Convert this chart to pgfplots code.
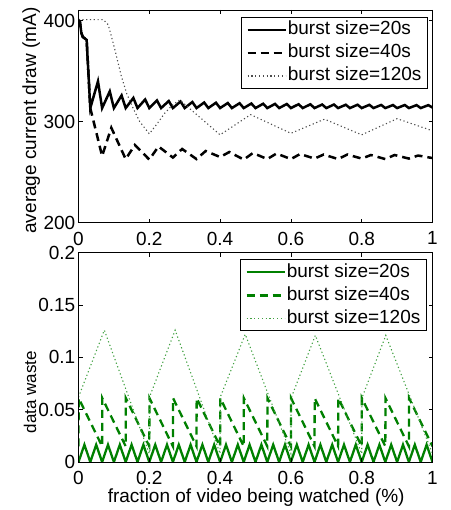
\documentclass[border=0pt]{standalone}
\usepackage{fontspec}
\setmainfont{Liberation Sans}
\usepackage{pgfplots}
\pgfplotsset{compat=1.18}
\definecolor{mgreen}{RGB}{0,128,0}
\newcommand{\ff}{\fontsize{19}{22}\selectfont}
\begin{document}
\ff
\begin{tikzpicture}
\path[use as bounding box] (0pt,0pt) rectangle (450pt,-510pt);
\pgfplotsset{
  every axis/.append style={
    scale only axis, width=354pt,
    xmin=0, xmax=1,
    xtick={0,0.2,0.4,0.6,0.8,1},
    xticklabels={0,0.2,0.4,0.6,0.8,1},
    tick align=inside,
    major tick length=4pt,
    axis on top,
    axis line style={line width=0.9pt},
    every tick/.style={black, line width=0.8pt},
    tick label style={font=\ff, inner sep=0pt},
    xticklabel shift=9pt,
    yticklabel shift=3pt,
    label style={font=\ff},
    legend cell align=left,
    legend style={font=\ff, draw=black, line width=0.9pt, inner xsep=5pt, inner ysep=3pt, row sep=4pt,
       nodes={inner sep=1pt, text height=13.5pt, text depth=3.5pt}},
    legend image code/.code={\draw[#1] (0pt,0pt) -- (38pt,0pt);},
  },
}
% ---------------- top axis ----------------
\begin{axis}[
  at={(78.5pt,-222.7pt)}, anchor=south west,
  height=212.7pt,
  ymin=200, ymax=410.6,
  ytick={200,300,400}, yticklabels={200,300,400},
  ylabel={average current draw (mA)},
  every axis y label/.style={at={(axis description cs:-0.12,0.48)}, rotate=90, anchor=base},
  legend style={at={(axis description cs:0.987,0.967)}, anchor=north east},
]
\addplot[black, line width=2.5pt] coordinates {
(0,401)(0.004,399)(0.008,388)(0.012,384)(0.023,381)(0.0333,313.5)
(0.055,340)(0.0667,313.5)(0.0883,330)(0.1,313.5)(0.1217,326)(0.1333,313.5)(0.155,323.5)(0.1667,313.5)(0.1883,322)(0.2,313.5)(0.2217,321)(0.2333,313.5)(0.255,320.5)(0.2667,313.5)(0.2883,320)(0.3,313.5)(0.3217,319.5)(0.3333,313.5)(0.355,319)(0.3667,313.5)(0.3883,318.8)(0.4,313.5)(0.4217,318.5)(0.4333,313.5)(0.455,318.3)(0.4667,313.5)(0.4883,318)(0.5,313.5)(0.5217,317.8)(0.5333,313.5)(0.555,317.6)(0.5667,313.5)(0.5883,317.5)(0.6,313.5)(0.6217,317.3)(0.6333,313.5)(0.655,317.2)(0.6667,313.5)(0.6883,317)(0.7,313.5)(0.7217,317)(0.7333,313.5)(0.755,316.8)(0.7667,313.5)(0.7883,316.8)(0.8,313.5)(0.8217,316.7)(0.8333,313.5)(0.855,316.6)(0.8667,313.5)(0.8883,316.5)(0.9,313.5)(0.9217,316.5)(0.9333,313.5)(0.955,316.4)(0.9667,313.5)(0.9883,316.4)(1,314)
};
\addlegendentry{burst size=20s}
\addplot[black, line width=2.5pt, dash pattern=on 8pt off 5pt] coordinates {
(0,401)(0.004,399)(0.008,388)(0.012,384)(0.023,381)(0.0333,313.5)(0.0667,266)(0.0927,294)(0.1333,263)(0.1593,277)(0.2,262.5)(0.226,275.5)(0.2667,264.5)(0.2927,273)(0.3333,263)(0.3593,271)(0.4,265)(0.426,270)(0.4667,262.5)(0.4927,269)(0.5333,263)(0.5593,268.5)(0.6,263)(0.626,268)(0.6667,263.5)(0.6927,267.5)(0.7333,263)(0.7593,267.5)(0.8,263.5)(0.826,267)(0.8667,263)(0.8927,267)(0.9333,263.5)(0.9593,266.5)(1,264)
};
\addlegendentry{burst size=40s}
\addplot[black!70, line width=1.1pt, dash pattern=on 1.2pt off 2.6pt] coordinates {
(0,401)(0.07,401)(0.084,396)(0.093,384.5)(0.103,371)(0.112,358)(0.121,345)(0.136,328)(0.154,313.6)(0.173,300)(0.2,288)(0.22,297)(0.244,308.6)(0.267,317)(0.286,321.5)(0.4,287)(0.486,307)(0.6,288.5)(0.695,302.5)(0.8,287)(0.9,303)(1,291)
};
\addlegendentry{burst size=120s}
\end{axis}
% ---------------- bottom axis ----------------
\begin{axis}[
  at={(78.5pt,-462pt)}, anchor=south west,
  height=209.3pt,
  ymin=0, ymax=0.2,
  ytick={0,0.05,0.1,0.15,0.2}, yticklabels={0,0.05,0.1,0.15,0.2},
  ylabel={data waste},
  every axis y label/.style={at={(axis description cs:-0.12,0.334)}, rotate=90, anchor=base, font=\fontsize{17}{20}\selectfont},
  xlabel={fraction of video being watched (\%)},
  every axis x label/.style={at={(axis description cs:0.502,-0.1247)}, anchor=north, inner sep=0pt},
  legend style={at={(axis description cs:0.984,0.968)}, anchor=north east},
]
\addplot[mgreen, line width=2.3pt] coordinates {
(0,0)(0.0167,0.0165)(0.0333,0)(0.05,0.0165)(0.0667,0)(0.0833,0.0165)(0.1,0)(0.1167,0.0165)(0.1333,0)(0.15,0.0165)(0.1667,0)(0.1833,0.0165)(0.2,0)(0.2167,0.0165)(0.2333,0)(0.25,0.0165)(0.2667,0)(0.2833,0.0165)(0.3,0)(0.3167,0.0165)(0.3333,0)(0.35,0.0165)(0.3667,0)(0.3833,0.0165)(0.4,0)(0.4167,0.0165)(0.4333,0)(0.45,0.0165)(0.4667,0)(0.4833,0.0165)(0.5,0)(0.5167,0.0165)(0.5333,0)(0.55,0.0165)(0.5667,0)(0.5833,0.0165)(0.6,0)(0.6167,0.0165)(0.6333,0)(0.65,0.0165)(0.6667,0)(0.6833,0.0165)(0.7,0)(0.7167,0.0165)(0.7333,0)(0.75,0.0165)(0.7667,0)(0.7833,0.0165)(0.8,0)(0.8167,0.0165)(0.8333,0)(0.85,0.0165)(0.8667,0)(0.8833,0.0165)(0.9,0)(0.9167,0.0165)(0.9333,0)(0.95,0.0165)(0.9667,0)(0.9833,0.0165)(1,0)
};
\addlegendentry{burst size=20s}
\addplot[mgreen, line width=2.3pt, dash pattern=on 8pt off 5pt] coordinates {
(0,0.015)(0.0005,0.061)(0.0667,0.015)(0.0672,0.061)(0.1333,0.015)(0.1338,0.061)(0.2,0.015)(0.2005,0.061)(0.2667,0.015)(0.2672,0.061)(0.3333,0.015)(0.3338,0.061)(0.4,0.015)(0.4005,0.061)(0.4667,0.015)(0.4672,0.061)(0.5333,0.015)(0.5338,0.061)(0.6,0.015)(0.6005,0.061)(0.6667,0.015)(0.6672,0.061)(0.7333,0.015)(0.7338,0.061)(0.8,0.015)(0.8005,0.061)(0.8667,0.015)(0.8672,0.061)(0.9333,0.015)(0.9338,0.061)(1,0.015)
};
\addlegendentry{burst size=40s}
\addplot[mgreen!75, line width=1.1pt, dash pattern=on 1.2pt off 2.6pt] coordinates {
(0,0.062)(0.073,0.126)(0.2,0.008)(0.2005,0.062)(0.273,0.126)(0.4,0.008)(0.4005,0.062)(0.471,0.122)(0.6,0.008)(0.6005,0.061)(0.669,0.121)(0.8,0.008)(0.8005,0.061)(0.868,0.121)(1,0.008)
};
\addlegendentry{burst size=120s}
\end{axis}
\end{tikzpicture}
\end{document}
